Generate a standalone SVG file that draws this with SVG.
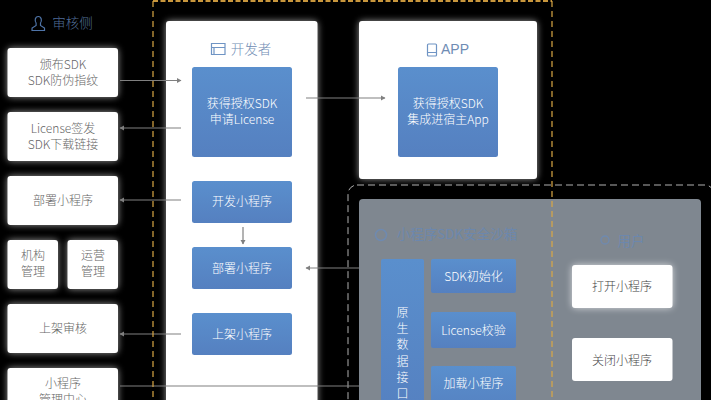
<svg xmlns="http://www.w3.org/2000/svg" width="711" height="400" viewBox="0 0 711 400">
<defs>
<linearGradient id="blue" x1="0" y1="0" x2="0" y2="1"><stop offset="0" stop-color="#5a8fcd"/><stop offset="1" stop-color="#5580c0"/></linearGradient>
<filter id="glow" x="-30%" y="-30%" width="160%" height="160%"><feGaussianBlur stdDeviation="3.500"/></filter>
<marker id="arr" markerWidth="5" markerHeight="6" refX="4" refY="3" orient="auto" markerUnits="userSpaceOnUse"><path d="M0 0.500L4.500 3L0 5.500Z" fill="#808080"/></marker>
</defs>
<style>
text{font-family:"Noto Sans CJK SC","Liberation Sans",sans-serif;font-size:12px;font-weight:300;text-anchor:middle}
.w{fill:#fff}
.g{fill:#fff;opacity:.6;filter:url(#glow)}
.b{fill:url(#blue)}
.d{fill:#666}
.t{fill:#fff}
.h{fill:#6f8cb4;font-size:13.500px}
.c{stroke:#808080;stroke-width:1.200;fill:none}
.i{fill:none;stroke:#6f94c4;stroke-width:1.200}
</style>
<rect width="711" height="400" fill="#000"/>
<rect x="348" y="185" width="366" height="230" rx="9" fill="none" stroke="#b0b0b0" stroke-width="1" stroke-dasharray="7 4"/>
<rect x="359" y="199" width="342" height="215" rx="4" fill="#7f8790"/>
<g id="auditor-title"><path class="i" d="M32 30.500h12.500v-2.500l-4-2.500v-2.500c1.500-2 1.200-6.500-2.200-6.500s-3.800 4.500-2.200 6.500v2.500l-4 2.500z" style="stroke:#4f74a8"/><text class="h" x="72.500" y="28" style="fill:#4f6c96">审核侧</text></g>
<g id="n-publish"><rect class="g" x="7.500" y="48" width="110.500" height="49" rx="4"/><rect class="w" x="7.500" y="48" width="110.500" height="49" rx="3"/><text class="d" x="63" y="69">颁布SDK</text><text class="d" x="63" y="85">SDK防伪指纹</text></g>
<g id="n-license"><rect class="g" x="7.500" y="112" width="110.500" height="49" rx="4"/><rect class="w" x="7.500" y="112" width="110.500" height="49" rx="3"/><text class="d" x="63" y="133">License签发</text><text class="d" x="63" y="149">SDK下载链接</text></g>
<g id="n-deploy"><rect class="g" x="7.500" y="176" width="110.500" height="49" rx="4"/><rect class="w" x="7.500" y="176" width="110.500" height="49" rx="3"/><text class="d" x="63" y="205">部署小程序</text></g>
<g id="n-org"><rect class="g" x="7.500" y="240" width="50.500" height="49" rx="4"/><rect class="w" x="7.500" y="240" width="50.500" height="49" rx="3"/><text class="d" x="33" y="260">机构</text><text class="d" x="33" y="276">管理</text></g>
<g id="n-ops"><rect class="g" x="67.500" y="240" width="50.500" height="49" rx="4"/><rect class="w" x="67.500" y="240" width="50.500" height="49" rx="3"/><text class="d" x="93" y="260">运营</text><text class="d" x="93" y="276">管理</text></g>
<g id="n-review"><rect class="g" x="7.500" y="304" width="110.500" height="49" rx="4"/><rect class="w" x="7.500" y="304" width="110.500" height="49" rx="3"/><text class="d" x="63" y="333">上架审核</text></g>
<g id="n-center"><rect class="g" x="7.500" y="368" width="110.500" height="60" rx="4"/><rect class="w" x="7.500" y="368" width="110.500" height="60" rx="3"/><text class="d" x="63" y="388">小程序</text><text class="d" x="63" y="404">管理中心</text></g>
<g id="developer"><rect class="g" x="166" y="21" width="151.500" height="400" rx="4"/><rect class="w" x="166" y="21" width="151.500" height="400" rx="3"/>
<path class="i" d="M211.500 43.500h13.500v11h-13.500zM211.500 47.500h13.500M214 47.500v7"/><text class="h" x="251" y="54">开发者</text></g>
<g id="app"><rect class="g" x="359" y="21" width="178" height="158" rx="4"/><rect class="w" x="359" y="21" width="178" height="158" rx="3"/>
<path class="i" d="M428.500 44h7a1 1 0 0 1 1 1v10a1 1 0 0 1-1 1h-7a1 1 0 0 1-1-1v-10a1 1 0 0 1 1-1zM427.500 52.500h9"/><text class="h" x="455" y="54" style="font-family:'Liberation Sans',sans-serif;font-size:14px;font-weight:400">APP</text></g>
<g id="dev-sdk"><rect class="b" x="192" y="67" width="100" height="90" rx="2.500"/><text class="t" x="242" y="108">获得授权SDK</text><text class="t" x="242" y="124">申请License</text></g>
<g id="dev-build"><rect class="b" x="192" y="181" width="100" height="42" rx="2.500"/><text class="t" x="242" y="206">开发小程序</text></g>
<g id="dev-deploy"><rect class="b" x="192" y="247" width="100" height="42" rx="2.500"/><text class="t" x="242" y="273">部署小程序</text></g>
<g id="dev-publish"><rect class="b" x="192" y="313" width="100" height="42" rx="2.500"/><text class="t" x="242" y="339">上架小程序</text></g>
<g id="app-sdk"><rect class="b" x="398" y="67" width="100" height="90" rx="2.500"/><text class="t" x="448" y="108">获得授权SDK</text><text class="t" x="448" y="124">集成进宿主App</text></g>
<g id="sandbox-title"><circle cx="381" cy="235" r="5.500" fill="none" stroke="#6f8ab0" stroke-width="1.500"/><text x="457" y="239" style="fill:#6c87ad;font-size:13.500px;font-weight:400">小程序SDK安全沙箱</text></g>
<g id="native-api"><rect class="b" x="381" y="259" width="43" height="160" rx="2"/><text class="t" x="402.500" y="317">原</text><text class="t" x="402.500" y="333">生</text><text class="t" x="402.500" y="349">数</text><text class="t" x="402.500" y="366">据</text><text class="t" x="402.500" y="382">接</text><text class="t" x="402.500" y="398">口</text></g>
<g id="sdk-init"><rect class="b" x="431" y="259" width="85" height="34" rx="2"/><text class="t" x="473.500" y="281">SDK初始化</text></g>
<g id="license-check"><rect class="b" x="431" y="312" width="85" height="36" rx="2"/><text class="t" x="473.500" y="335">License校验</text></g>
<g id="load"><rect class="b" x="431" y="366" width="85" height="50" rx="2"/><text class="t" x="473.500" y="388">加载小程序</text></g>
<g id="user-title"><circle cx="605" cy="240" r="4" fill="none" stroke="#6f8ab0" stroke-width="1.300"/><text x="631" y="246" style="fill:#6c87ad;font-size:13.500px;font-weight:400">用户</text></g>
<g id="open"><rect x="572" y="265" width="100.500" height="43" rx="4" fill="#fff" opacity=".7" filter="url(#glow)"/><rect class="w" x="572" y="265" width="100.500" height="43" rx="3"/><text x="622" y="291" fill="#444">打开小程序</text></g>
<g id="close"><rect class="w" x="572" y="338" width="100.500" height="43" rx="3"/><text x="622" y="365" fill="#444">关闭小程序</text></g>
<g id="connectors">
<path class="c" marker-end="url(#arr)" d="M120 80.500H181"/>
<path class="c" marker-end="url(#arr)" d="M181 128H120"/>
<path class="c" marker-end="url(#arr)" d="M181 200H120"/>
<path class="c" marker-end="url(#arr)" d="M181 334H120"/>
<path class="c" d="M120 386H359"/>
<path class="c" marker-end="url(#arr)" d="M306 98H385"/>
<path class="c" marker-end="url(#arr)" d="M243 227V244"/>
<path class="c" marker-end="url(#arr)" d="M359 268H306"/>
</g>
<path d="M153 1H552" fill="none" stroke="#c8963c" stroke-width="2" stroke-dasharray="5 2.500"/>
<path d="M552 1V400M153 1V400" fill="none" stroke="#dba845" stroke-width="1.200" stroke-dasharray="6 4"/>
</svg>
